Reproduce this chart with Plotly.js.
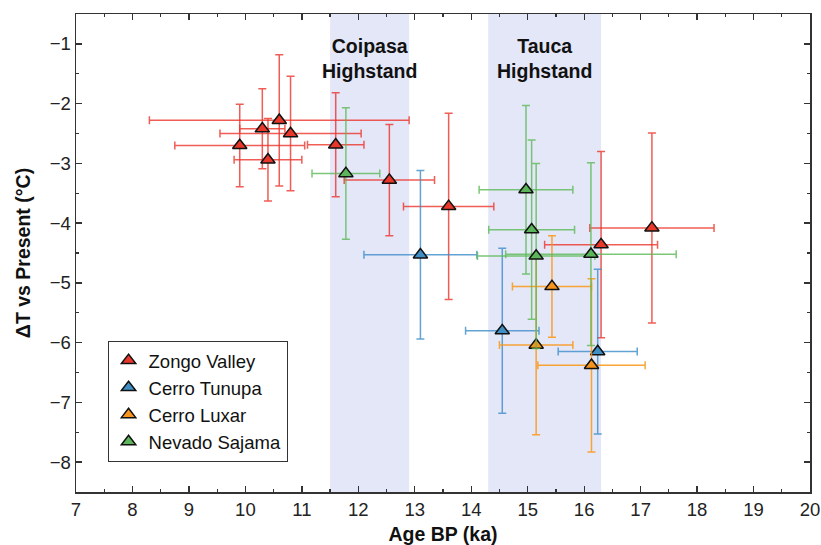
<!DOCTYPE html>
<html>
<head>
<meta charset="utf-8">
<script src="https://cdn.plot.ly/plotly-3.0.1.min.js"></script>
<style>html,body{margin:0;padding:0;background:#fff;}#chart{width:821px;height:545px;}</style>
</head>
<body>
<div id="chart"></div>
<script>
// Zongo Valley
const zongoAge    = [9.9, 10.3, 10.6, 10.8, 10.4, 11.6, 12.55, 13.6, 16.3, 17.2];
const zongoAgeErr = [1.15, 0.4, 2.3, 1.25, 0.6, 0.5, 0.8, 0.8, 1.0, 1.1];
const zongoDT     = [-2.7, -2.42, -2.28, -2.5, -2.94, -2.69, -3.28, -3.72, -4.36, -4.08];
const zongoDTErr  = [0.69, 0.67, 1.1, 0.96, 0.69, 0.87, 0.93, 1.56, 1.56, 1.59];
// Cerro Tunupa
const tunupaAge    = [13.1, 14.55, 16.24];
const tunupaAgeErr = [1.0, 0.65, 0.7];
const tunupaDT     = [-4.53, -5.8, -6.15];
const tunupaDTErr  = [1.41, 1.38, 1.38];
// Cerro Luxar
const luxarAge    = [15.43, 15.15, 16.13];
const luxarAgeErr = [0.7, 0.65, 0.95];
const luxarDT     = [-5.06, -6.04, -6.38];
const luxarDTErr  = [0.85, 1.5, 1.45];
// Nevado Sajama
const sajamaAge    = [11.78, 14.97, 15.07, 15.15, 16.12];
const sajamaAgeErr = [0.6, 0.83, 0.76, 1.04, 1.51];
const sajamaDT     = [-3.17, -3.44, -4.11, -4.55, -4.52];
const sajamaDTErr  = [1.1, 1.41, 1.5, 1.55, 1.53];
// Highstand periods
const highstandNames = ['Coipasa<br>Highstand', 'Tauca<br>Highstand'];
const highstandStart = [11.5, 14.3];
const highstandEnd   = [12.9, 16.3];

const FONT = 'Liberation Sans, Arial, sans-serif';

function series(name, x, xe, y, ye, fill, errCol) {
  return {
    type: 'scatter', mode: 'markers', name: name,
    x: x, y: y,
    error_x: {type: 'data', array: xe, visible: true, color: errCol, thickness: 1.5, width: 4},
    error_y: {type: 'data', array: ye, visible: true, color: errCol, thickness: 1.5, width: 4},
    marker: {symbol: 'triangle-up', size: 12.5, color: fill, line: {color: '#111', width: 1.5}}
  };
}

const traces = [
  series('Zongo Valley', zongoAge, zongoAgeErr, zongoDT, zongoDTErr, '#e8382b', 'rgba(236,52,42,0.8)'),
  series('Cerro Tunupa', tunupaAge, tunupaAgeErr, tunupaDT, tunupaDTErr, '#3f8fc5', 'rgba(60,140,200,0.8)'),
  series('Cerro Luxar', luxarAge, luxarAgeErr, luxarDT, luxarDTErr, '#f7941d', 'rgba(250,150,20,0.85)'),
  series('Nevado Sajama', sajamaAge, sajamaAgeErr, sajamaDT, sajamaDTErr, '#5cb55a', 'rgba(90,185,85,0.8)')
];

const shapes = highstandStart.map((s, i) => ({
  type: 'rect', xref: 'x', yref: 'paper', x0: s, x1: highstandEnd[i], y0: 0, y1: 1,
  fillcolor: 'rgb(228,231,248)', line: {width: 0}, layer: 'below'
}));

const annotations = highstandNames.map((t, i) => ({
  text: '<b>' + t + '</b>', xref: 'x', yref: 'paper',
  x: (highstandStart[i] + highstandEnd[i]) / 2, y: 0.96,
  xanchor: 'center', yanchor: 'top', showarrow: false,
  font: {family: FONT, size: 19.5, color: '#111'}
}));

const axisCommon = {
  showgrid: false, zeroline: false, showline: true, linecolor: '#333', linewidth: 1.5,
  mirror: 'allticks', ticks: 'inside', ticklen: 6, tickwidth: 1.3, tickcolor: '#333',
  tickfont: {family: FONT, size: 18.5, color: '#222'},
  minor: {ticks: 'inside', ticklen: 3, tickwidth: 1.3, tickcolor: '#333', dtick: 0.5}
};

const layout = {
  width: 821, height: 545,
  margin: {l: 76, r: 11, t: 14, b: 53},
  paper_bgcolor: '#fff', plot_bgcolor: '#fff',
  font: {family: FONT, color: '#222'},
  xaxis: Object.assign({}, axisCommon, {
    range: [7, 20], dtick: 1, tick0: 7,
    title: {text: '<b>Age BP (ka)</b>', font: {family: FONT, size: 19.5, color: '#111'}, standoff: 8}
  }),
  yaxis: Object.assign({}, axisCommon, {
    range: [-8.5, -0.5], dtick: 1, tick0: -8,
    title: {text: '<b>ΔT vs Present (°C)</b>', font: {family: FONT, size: 19.5, color: '#111'}, standoff: 14}
  }),
  shapes: shapes,
  annotations: annotations,
  showlegend: true,
  legend: {
    x: 0.043, y: 0.063, xanchor: 'left', yanchor: 'bottom',
    bgcolor: '#fff', bordercolor: '#333', borderwidth: 1,
    font: {family: FONT, size: 18.5, color: '#111'}, tracegroupgap: 0
  }
};

Plotly.newPlot('chart', traces, layout, {displayModeBar: false, staticPlot: true});
</script>
</body>
</html>
